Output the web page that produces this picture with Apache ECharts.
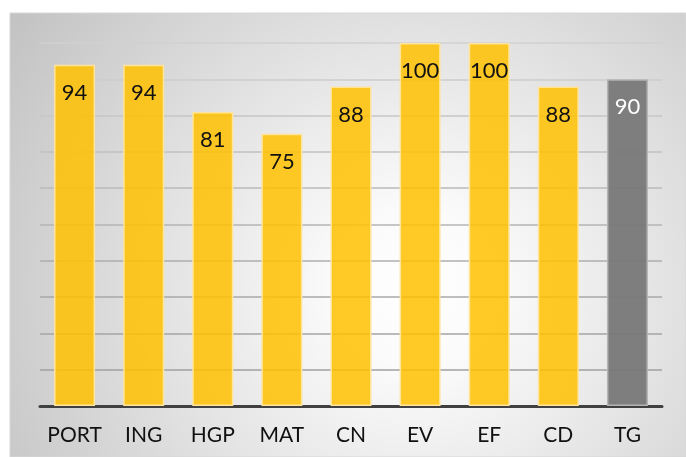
<!DOCTYPE html>
<html><head><meta charset="utf-8">
<script src="https://cdn.jsdelivr.net/npm/echarts@6/dist/echarts.min.js"></script>
<style>html,body{margin:0;padding:0;background:#fff;}#c{width:686px;height:457px;}</style>
</head><body><div id="c"></div>
<script>
const categories = ['PORT','ING','HGP','MAT','CN','EV','EF','CD','TG'];
const values = [94,94,81,75,88,100,100,88,90];
const highlightCategory = 'TG';
const yTicks = {min:0, max:100, interval:10};

const chart = echarts.init(document.getElementById('c'), null, {renderer:'canvas'});
const gridColors = ['#9a9a9a','#a0a0a0','#a4a4a4','#a8a8a8','#aeaeae','#b4b4b4','#bababa','#c0c0c0','#c6c6c6','#cccccc','#d0d0d0'];
chart.setOption({
  animation:false,
  graphic:[{
    type:'rect', z:-10, silent:true,
    shape:{x:10,y:13,width:676,height:444},
    style:{
      fill:{type:'radial', x:0.6, y:0.62, r:1.15,
        colorStops:[{offset:0,color:'#ffffff'},{offset:0.15,color:'#fbfbfb'},{offset:1,color:'#bfbfbf'}]},
      stroke:'#d6d6d6', lineWidth:1
    }
  }],
  grid:{left:40,right:24,top:43,bottom:51},
  xAxis:{
    type:'category', data:categories,
    axisLine:{lineStyle:{color:'#404040',width:3}},
    axisTick:{show:false},
    axisLabel:{color:'#111',fontSize:21,fontFamily:'Lato',margin:19,interval:0,hideOverlap:false}
  },
  yAxis:{
    type:'value', min:yTicks.min, max:yTicks.max, interval:yTicks.interval,
    axisLabel:{show:false}, axisLine:{show:false}, axisTick:{show:false},
    splitLine:{lineStyle:{color:gridColors,width:1.5}}
  },
  series:[{
    type:'bar', barWidth:41,
    data: values.map((v,i)=>{
      const hi = categories[i]===highlightCategory;
      return {value:v,
        itemStyle: hi ? {color:'rgba(120,120,120,0.95)',borderColor:'#b4b4b4',borderWidth:1.5}
                      : {color:'rgba(255,192,0,0.85)',borderColor:'#ffe49a',borderWidth:1.5},
        label:{color: hi ? '#ffffff' : '#111111'}};
    }),
    label:{show:true,position:'insideTop',distance:17,fontSize:22,fontFamily:'Lato',lineHeight:22}
  }]
});
</script></body></html>
